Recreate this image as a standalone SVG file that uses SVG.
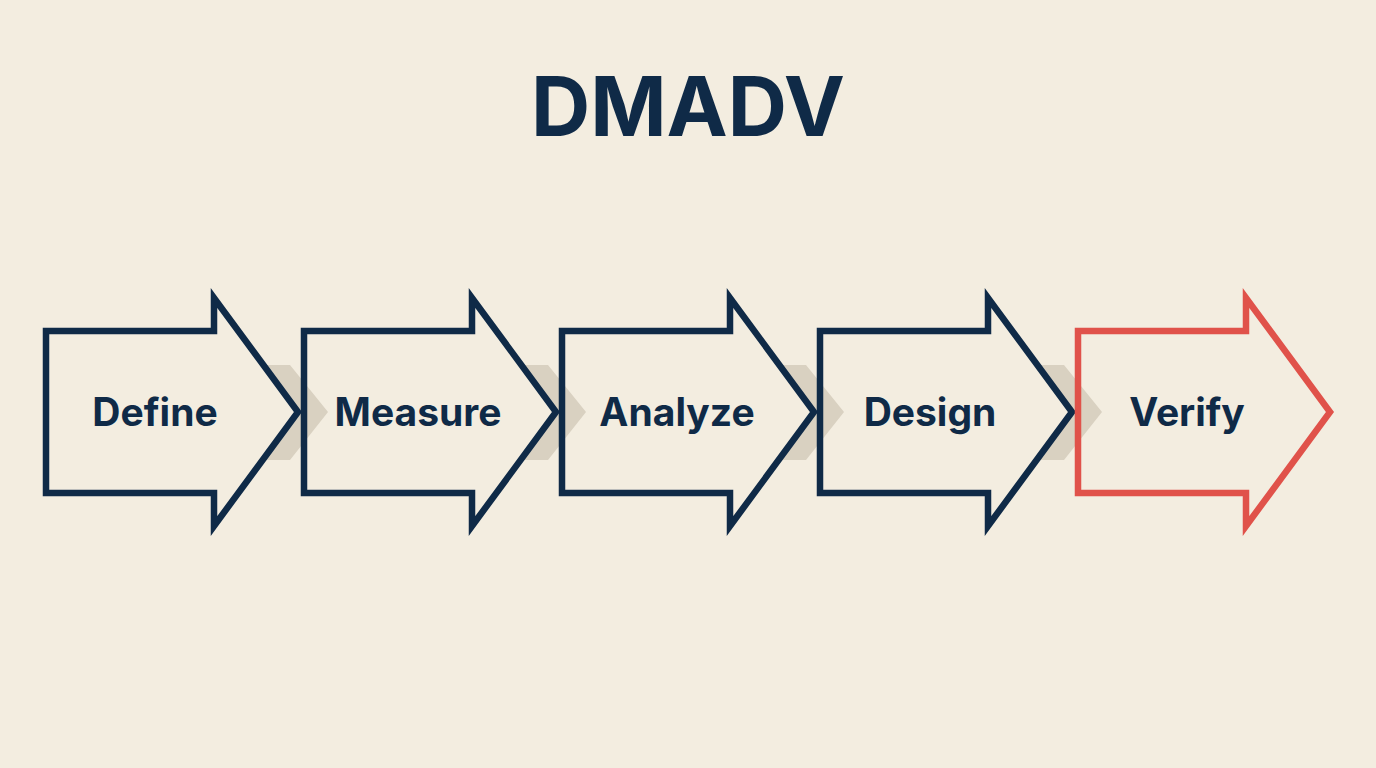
<svg xmlns="http://www.w3.org/2000/svg" width="1376" height="768" viewBox="0 0 1376 768">
<style>
.a{fill:none;stroke:#0f2a47;stroke-width:6.5;stroke-linejoin:miter}
.r{stroke:#e0524a}
.c{fill:#d9d1c1}
.t{font-family:Inter,"Liberation Sans",sans-serif;font-weight:700;font-size:39px;fill:#0f2a47;text-anchor:middle}
</style>
<defs><path id="ar" d="M0,33 H168 V0 L252,114 L168,228 V195 H0 Z"/></defs>
<rect width="1376" height="768" fill="#f3ede0"/>
<text x="688" y="136" font-family="Inter,'Liberation Sans',sans-serif" font-weight="700" font-size="82" fill="#0f2a47" text-anchor="middle">DMADV</text>
<g id="connectors">
<polygon class="c" points="263,365 290,365 328,412 290,460 263,460 298,412"/>
<polygon class="c" points="521,365 548,365 586,412 548,460 521,460 556,412"/>
<polygon class="c" points="779,365 806,365 844,412 806,460 779,460 814,412"/>
<polygon class="c" points="1037,365 1064,365 1102,412 1064,460 1037,460 1072,412"/>
</g>
<g id="define"><use href="#ar" class="a" x="46" y="298"/><text class="t" x="155" y="426">Define</text></g>
<g id="measure"><use href="#ar" class="a" x="304" y="298"/><text class="t" x="418" y="426">Measure</text></g>
<g id="analyze"><use href="#ar" class="a" x="562" y="298"/><text class="t" x="677" y="426">Analyze</text></g>
<g id="design"><use href="#ar" class="a" x="820" y="298"/><text class="t" x="930" y="426">Design</text></g>
<g id="verify"><use href="#ar" class="a r" x="1078" y="298"/><text class="t" x="1187" y="426">Verify</text></g>
</svg>
